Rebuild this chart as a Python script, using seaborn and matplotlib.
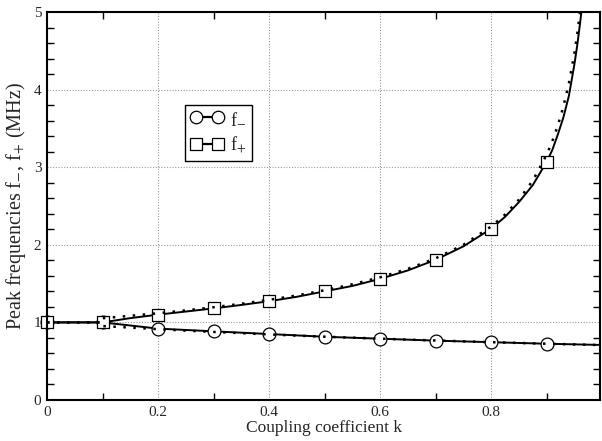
import matplotlib
matplotlib.use("Agg")
import matplotlib.pyplot as plt
from matplotlib.lines import Line2D
from matplotlib.ticker import MultipleLocator
import seaborn as sns
import pandas as pd

# ---------------- data ----------------
k_mark = [0.0, 0.1, 0.2, 0.3, 0.4, 0.5, 0.6, 0.7, 0.8, 0.9]
fminus_mark = [1.0, 1.0, 0.92, 0.885, 0.85, 0.815, 0.79, 0.765, 0.745, 0.725]
fplus_mark = [1.0, 1.0, 1.10, 1.18, 1.273, 1.40, 1.561, 1.807, 2.208, 3.07]

k_solid_plus = [0.0, 0.1, 0.15, 0.2, 0.25, 0.3, 0.35, 0.4, 0.45, 0.5, 0.55, 0.6,
                0.65, 0.7, 0.75, 0.8, 0.825, 0.85, 0.875, 0.9, 0.91, 0.92, 0.93,
                0.94, 0.95, 0.955, 0.96, 0.965]
fplus_solid = [1.0, 1.0, 1.055, 1.10, 1.14, 1.18, 1.225, 1.273, 1.33, 1.40, 1.47,
               1.561, 1.67, 1.807, 1.98, 2.208, 2.36, 2.55, 2.77, 3.07, 3.22, 3.42,
               3.64, 3.92, 4.33, 4.57, 4.85, 5.15]

k_solid_minus = [0.0, 0.1, 0.15, 0.2, 0.3, 0.4, 0.5, 0.6, 0.7, 0.8, 0.9, 0.995]
fminus_solid = [1.0, 1.0, 0.96, 0.92, 0.885, 0.85, 0.815, 0.79, 0.765, 0.745, 0.725, 0.71]

k_dot_plus = [0.0, 0.1, 0.1, 0.12, 0.15, 0.2, 0.25, 0.3, 0.35, 0.4, 0.45, 0.5, 0.55,
              0.6, 0.65, 0.7, 0.75, 0.8, 0.825, 0.85, 0.875, 0.9, 0.91, 0.92, 0.93,
              0.94, 0.95, 0.955, 0.96]
fplus_dot = [1.0, 1.0, 1.054, 1.066, 1.085, 1.118, 1.155, 1.195, 1.240, 1.291, 1.348,
             1.414, 1.491, 1.581, 1.690, 1.826, 2.0, 2.236, 2.390, 2.582, 2.828, 3.162,
             3.333, 3.536, 3.780, 4.082, 4.472, 4.714, 5.0]

k_dot_minus = [0.0, 0.1, 0.1, 0.15, 0.2, 0.25, 0.3, 0.35, 0.4, 0.45, 0.5, 0.55, 0.6,
               0.65, 0.7, 0.75, 0.8, 0.85, 0.9, 0.995]
fminus_dot = [1.0, 1.0, 0.953, 0.933, 0.913, 0.894, 0.877, 0.861, 0.845, 0.830, 0.816,
              0.803, 0.791, 0.778, 0.767, 0.756, 0.745, 0.735, 0.725, 0.708]

x_ticks = [0, 0.2, 0.4, 0.6, 0.8]
x_tick_labels = ["0", "0.2", "0.4", "0.6", "0.8"]
y_ticks = [0, 1, 2, 3, 4, 5]
y_tick_labels = ["0", "1", "2", "3", "4", "5"]
legend_labels = [r"f$_{-}$", r"f$_{+}$"]

# ---------------- style ----------------
sns.set_style("white")
plt.rcParams["font.family"] = ["Liberation Serif", "DejaVu Serif"]
plt.rcParams["mathtext.fontset"] = "stix"

fig = plt.figure(figsize=(6.02, 4.41), dpi=100)
ax = fig.add_axes([47 / 602, 1 - 400 / 441, 553 / 602, 388 / 441])

def line(kx, fy, **kw):
    df = pd.DataFrame({"k": kx, "f": fy})
    sns.lineplot(data=df, x="k", y="f", estimator=None, sort=False, ax=ax, **kw)

# solid curves
line(k_solid_plus, fplus_solid, color="black", lw=1.4, zorder=4)
line(k_solid_minus, fminus_solid, color="black", lw=1.4, zorder=4)

# markers
sns.scatterplot(x=k_mark, y=fminus_mark, marker="o", s=85, facecolor="white",
                edgecolor="black", linewidth=0.9, clip_on=False, zorder=5, ax=ax)
sns.scatterplot(x=k_mark, y=fplus_mark, marker="s", s=75, facecolor="white",
                edgecolor="black", linewidth=0.9, clip_on=False, zorder=5, ax=ax)

# dotted curves (drawn over the hollow markers)
line(k_dot_plus, fplus_dot, color="black", lw=1.8, dashes=False,
     linestyle=(0, (1, 3)), zorder=6)
line(k_dot_minus, fminus_dot, color="black", lw=1.8, dashes=False,
     linestyle=(0, (1, 3)), zorder=6)

ax.set_xlim(0, 0.996)
ax.set_ylim(0, 5)
ax.set_xticks(x_ticks)
ax.set_xticklabels(x_tick_labels)
ax.set_yticks(y_ticks)
ax.set_yticklabels(y_tick_labels)
ax.xaxis.set_minor_locator(MultipleLocator(0.1))
ax.yaxis.set_minor_locator(MultipleLocator(0.2))
ax.tick_params(which="major", length=0, pad=4, labelsize=11)
ax.tick_params(which="minor", direction="in", length=5, width=1, color="black",
               top=True, right=True, bottom=True, left=True)
ax.tick_params(which="both", top=True, right=True)

ax.grid(True, which="major", color="0.6", linestyle=(0, (1, 1.5)), lw=0.8)
for s in ax.spines.values():
    s.set_color("black")
    s.set_linewidth(1.5)
    s.set_zorder(7)

ax.set_xlabel("Coupling coefficient k", fontsize=12.5, labelpad=1)
ax.set_ylabel(r"Peak frequencies f$_{-}$, f$_{+}$ (MHz)", fontsize=14.5, labelpad=4)

handles = [
    Line2D([], [], color="black", lw=1.6, marker="o", ms=9, mfc="white", mec="black", mew=0.9),
    Line2D([], [], color="black", lw=1.6, marker="s", ms=8.5, mfc="white", mec="black", mew=0.9),
]
leg = ax.legend(handles, legend_labels, loc="upper left", bbox_to_anchor=(0.25, 0.76),
                numpoints=2, handlelength=1.8, handletextpad=0.4, fontsize=13,
                fancybox=False, framealpha=1, edgecolor="black", borderpad=0.3,
                labelspacing=0.4, borderaxespad=0)
leg.get_frame().set_linewidth(1.0)

fig.savefig("out.png", dpi=100)
